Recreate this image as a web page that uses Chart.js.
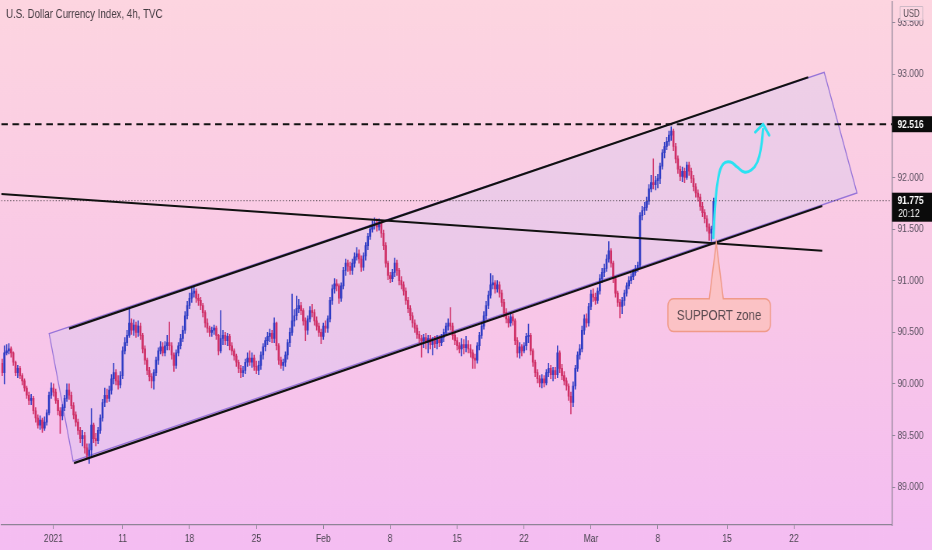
<!DOCTYPE html>
<html><head><meta charset="utf-8">
<script src="https://cdn.jsdelivr.net/npm/chart.js@4.4.1/dist/chart.umd.min.js"></script>
<style>
html,body{margin:0;padding:0;overflow:hidden;background:#f8c8e8;}
#wrap{width:932px;height:550px;overflow:hidden;position:relative;}
#inner{width:1200px;height:550px;transform:scaleX(0.776667);transform-origin:0 0;}
</style></head><body>
<div id="wrap"><div id="inner"><canvas id="c"></canvas></div></div>
<script>
const chartTitle = 'U.S. Dollar Currency Index, 4h, TVC';
const firstOpen = 90.20;
const closes = [
90.11,90.30,90.32,90.34,90.30,90.21,90.11,90.15,90.08,90.03,
89.96,89.89,89.84,89.86,89.74,89.67,89.60,89.65,89.57,89.63,
89.72,89.89,89.96,89.92,89.84,89.74,89.69,89.77,89.86,89.94,
89.89,89.79,89.70,89.63,89.55,89.47,89.50,89.38,89.31,89.36,
89.60,89.47,89.45,89.55,89.67,89.82,89.89,89.86,89.94,90.05,
90.11,90.03,89.99,90.08,90.32,90.40,90.47,90.59,90.52,90.57,
90.50,90.56,90.47,90.34,90.23,90.13,90.07,90.03,90.11,90.23,
90.32,90.36,90.30,90.37,90.40,90.37,90.28,90.18,90.30,90.37,
90.44,90.52,90.66,90.76,90.83,90.88,90.90,90.83,90.81,90.76,
90.69,90.59,90.54,90.50,90.52,90.54,90.47,90.32,90.44,90.47,
90.42,90.46,90.37,90.32,90.27,90.21,90.15,90.11,90.13,90.21,
90.25,90.21,90.25,90.17,90.13,90.18,90.28,90.36,90.42,90.46,
90.49,90.44,90.59,90.37,90.23,90.18,90.21,90.28,90.40,90.50,
90.61,90.66,90.73,90.76,90.71,90.61,90.52,90.63,90.71,90.69,
90.61,90.56,90.50,90.46,90.56,90.54,90.63,90.81,90.92,90.97,
90.95,90.83,90.95,91.10,91.17,91.14,91.10,91.17,91.23,91.26,
91.21,91.13,91.24,91.34,91.43,91.50,91.54,91.56,91.52,91.56,
91.46,91.34,91.17,91.05,91.02,91.08,91.17,91.10,91.00,90.96,
90.90,90.81,90.73,90.66,90.59,90.54,90.48,90.44,90.42,90.45,
90.40,90.44,90.38,90.42,90.39,90.43,90.40,90.45,90.50,90.56,
90.59,90.56,90.47,90.42,90.37,90.34,90.38,90.35,90.38,90.34,
90.30,90.25,90.23,90.37,90.47,90.56,90.66,90.76,90.86,90.96,
90.98,90.92,90.96,90.88,90.79,90.69,90.63,90.59,90.65,90.61,
90.42,90.30,90.36,90.32,90.37,90.46,90.47,90.32,90.21,90.11,
90.05,90.01,90.05,90.01,90.11,90.15,90.09,90.13,90.09,90.30,
90.15,90.08,90.03,89.98,89.88,89.82,89.98,90.15,90.28,90.34,
90.52,90.63,90.59,90.75,90.87,90.84,90.81,90.90,91.02,91.08,
91.12,91.21,91.29,91.17,91.02,90.88,90.79,90.75,90.81,90.88,
90.95,91.00,91.04,91.08,91.12,91.15,91.63,91.68,91.71,91.77,
91.89,91.95,91.93,91.97,91.99,92.11,92.24,92.30,92.35,92.41,
92.45,92.30,92.18,92.08,92.01,92.06,92.00,92.12,92.06,91.99,
91.91,91.85,91.81,91.72,91.66,91.60,91.52,91.46,91.50,91.77];
const highs = [
90.24,90.37,90.38,90.39,90.36,90.31,90.22,90.18,90.17,90.10,
90.05,89.98,89.92,89.90,89.88,89.77,89.70,89.69,89.67,89.68,
89.75,89.92,90.01,90.00,89.95,89.86,89.77,89.80,89.89,90.00,
90.00,89.92,89.82,89.73,89.66,89.58,89.55,89.53,89.42,89.42,
89.76,89.62,89.52,89.58,89.70,89.85,89.96,89.95,89.98,90.09,
90.20,90.14,90.08,90.12,90.36,90.45,90.52,90.73,90.63,90.62,
90.60,90.61,90.59,90.49,90.37,90.25,90.16,90.10,90.14,90.26,
90.35,90.41,90.40,90.41,90.47,90.60,90.40,90.30,90.33,90.40,
90.48,90.56,90.70,90.80,90.88,90.93,90.95,90.92,90.87,90.84,
90.78,90.71,90.63,90.56,90.55,90.57,90.56,90.48,90.71,90.52,
90.50,90.49,90.48,90.40,90.34,90.29,90.23,90.18,90.17,90.24,
90.30,90.32,90.30,90.28,90.22,90.22,90.31,90.39,90.45,90.50,
90.53,90.52,90.64,90.60,90.39,90.26,90.24,90.31,90.43,90.54,
90.87,90.72,90.85,90.82,90.79,90.73,90.64,90.66,90.75,90.77,
90.72,90.65,90.59,90.53,90.59,90.61,90.66,90.84,90.96,91.02,
91.01,90.97,90.98,91.13,91.21,91.20,91.18,91.21,91.27,91.32,
91.30,91.24,91.27,91.37,91.46,91.54,91.58,91.61,91.60,91.60,
91.58,91.49,91.37,91.19,91.08,91.11,91.22,91.20,91.12,91.04,
90.99,90.93,90.84,90.76,90.69,90.62,90.57,90.51,90.47,90.48,
90.49,90.47,90.47,90.45,90.46,90.47,90.46,90.48,90.53,90.59,
90.63,90.74,90.59,90.50,90.45,90.40,90.44,90.43,90.46,90.42,
90.38,90.33,90.29,90.40,90.50,90.60,90.70,90.80,90.90,91.07,
91.05,91.00,91.00,90.99,90.91,90.82,90.73,90.66,90.69,90.68,
90.63,90.45,90.40,90.38,90.40,90.49,90.58,90.49,90.34,90.23,
90.14,90.08,90.09,90.08,90.14,90.20,90.18,90.16,90.16,90.37,
90.32,90.19,90.12,90.06,90.00,89.92,90.02,90.18,90.31,90.38,
90.56,90.67,90.68,90.78,90.91,90.92,90.88,90.93,91.06,91.12,
91.16,91.25,91.38,91.31,91.19,91.04,90.90,90.82,90.84,90.91,
90.98,91.04,91.07,91.11,91.15,91.18,91.66,91.72,91.76,91.81,
91.93,92.02,92.18,92.01,92.03,92.14,92.27,92.34,92.39,92.45,
92.49,92.47,92.33,92.21,92.11,92.10,92.09,92.15,92.15,92.09,
92.02,91.94,91.88,91.84,91.76,91.69,91.63,91.55,91.53,91.80];
const lows = [
90.08,90.00,90.28,90.29,90.26,90.18,90.08,90.06,90.05,89.99,
89.93,89.86,89.80,89.80,89.71,89.63,89.57,89.56,89.53,89.55,
89.60,89.70,89.86,89.88,89.81,89.70,89.52,89.65,89.74,89.83,
89.85,89.76,89.66,89.59,89.51,89.43,89.40,89.33,89.27,89.23,
89.30,89.43,89.40,89.42,89.52,89.64,89.78,89.82,89.83,89.90,
90.00,89.99,89.95,89.96,90.05,90.29,90.37,90.45,90.48,90.47,
90.45,90.46,90.43,90.30,90.19,90.09,90.03,89.96,89.95,90.08,
90.19,90.29,90.27,90.27,90.33,90.33,90.24,90.12,90.15,90.27,
90.34,90.41,90.49,90.63,90.73,90.79,90.84,90.79,90.76,90.72,
90.65,90.55,90.50,90.46,90.46,90.48,90.43,90.28,90.30,90.38,
90.38,90.37,90.33,90.28,90.23,90.17,90.11,90.06,90.07,90.10,
90.17,90.18,90.16,90.13,90.10,90.09,90.14,90.24,90.32,90.38,
90.41,90.40,90.40,90.33,90.19,90.15,90.13,90.17,90.24,90.36,
90.47,90.56,90.62,90.69,90.67,90.57,90.42,90.48,90.60,90.65,
90.57,90.52,90.46,90.39,90.43,90.50,90.50,90.60,90.77,90.88,
90.90,90.78,90.80,90.92,91.05,91.09,91.06,91.06,91.13,91.20,
91.17,91.09,91.10,91.20,91.30,91.40,91.47,91.50,91.48,91.49,
91.42,91.30,91.13,91.01,90.98,90.99,91.04,91.05,90.96,90.92,
90.86,90.77,90.69,90.62,90.55,90.50,90.44,90.40,90.26,90.35,
90.34,90.30,90.34,90.28,90.35,90.34,90.36,90.37,90.41,90.47,
90.52,90.52,90.43,90.38,90.33,90.30,90.27,90.29,90.31,90.30,
90.26,90.15,90.15,90.20,90.33,90.44,90.53,90.63,90.73,90.83,
90.92,90.88,90.89,90.84,90.75,90.65,90.59,90.55,90.56,90.57,
90.38,90.26,90.25,90.27,90.30,90.33,90.40,90.28,90.17,90.07,
90.01,89.97,89.96,89.97,89.99,90.07,90.05,90.03,90.05,90.06,
90.11,90.04,89.99,89.94,89.84,89.71,89.78,89.95,90.12,90.24,
90.31,90.48,90.55,90.56,90.72,90.80,90.77,90.78,90.87,90.98,
91.04,91.09,91.18,91.13,90.98,90.84,90.75,90.64,90.68,90.76,
90.85,90.92,90.97,91.01,91.05,91.09,91.12,91.59,91.64,91.68,
91.74,91.86,91.89,91.88,91.90,91.94,92.08,92.19,92.27,92.31,
92.36,92.26,92.14,92.04,91.97,91.96,91.95,91.98,92.02,91.95,
91.87,91.81,91.77,91.68,91.62,91.56,91.48,91.39,91.38,91.44];

const xTickIndex = [23,54,84,114,144,174,204,234,264,294,325,355];
const xTickLabels = ['2021','11','18','25','Feb','8','15','22','Mar','8','15','22'];
const yTickValues = [89.0,89.5,90.0,90.5,91.0,91.5,92.0,92.5,93.0,93.5];
const xRange = [-0.45, 399.0];
const yRange = [88.633, 93.705];

const upperChannel = [{x:30.0,y:90.536},{x:361.4,y:92.971}];
const lowerChannel = [{x:32.2,y:89.232},{x:367.7,y:91.724}];
const trendLine = [{x:-0.45,y:91.840},{x:367.7,y:91.290}];
const channelBox = [{x:21.05,y:90.488},{x:368.6,y:93.019},{x:383.3,y:91.850},{x:31.8,y:89.251}];
const resistanceLevel = 92.516;
const lastPrice = 91.775;
const countdown = '20:12';
const forecastPath = [{x:318.9,y:91.415},{x:319.7,y:91.724},{x:321.1,y:91.995},{x:323.3,y:92.130},{x:326.5,y:92.149},{x:329.6,y:92.101},{x:332.7,y:92.053},{x:335.9,y:92.072},{x:338.6,y:92.149},{x:340.3,y:92.294},{x:341.2,y:92.468}];
const arrowHead = [{x:337.7,y:92.439},{x:341.2,y:92.517},{x:343.9,y:92.410}];
const supportTip = {x:320.2,y:91.367};
const supportBox = {x:321.5, top:90.826, bottom:90.507, label:'SUPPORT zone'};

const opens = closes.map((c,i)=> i===0 ? firstOpen : closes[i-1]);
const UP='#2e3bc4', DOWN='#cf2e66';
const candleColors = closes.map((c,i)=> c>=opens[i] ? UP : DOWN);
const FONT='"Liberation Sans", Arial, sans-serif';

const bgPlugin = {
  id:'bg',
  beforeDraw(chart){
    const {ctx,width,height}=chart;
    const g=ctx.createLinearGradient(0,0,0,height);
    g.addColorStop(0,'#fdd5e0'); g.addColorStop(0.5,'#f9c8e6'); g.addColorStop(1,'#f4bdf2');
    ctx.save(); ctx.fillStyle=g; ctx.fillRect(0,0,width,height); ctx.restore();
  },
  beforeDatasetsDraw(chart){
    const {ctx,scales:{x,y},chartArea:a}=chart;
    ctx.save();
    ctx.beginPath(); ctx.rect(a.left,a.top,a.right-a.left,a.bottom-a.top); ctx.clip();
    ctx.beginPath();
    channelBox.forEach((p,i)=>{const px=x.getPixelForValue(p.x), py=y.getPixelForValue(p.y); i?ctx.lineTo(px,py):ctx.moveTo(px,py);});
    ctx.closePath();
    ctx.fillStyle='rgba(200,200,245,0.28)'; ctx.fill();
    ctx.strokeStyle='rgba(140,105,215,0.9)'; ctx.lineWidth=1.3; ctx.stroke();
    ctx.restore();
  },
  afterDatasetsDraw(chart){
    const {ctx,scales:{x,y}}=chart;
    const cx=x.getPixelForValue(supportBox.x), T=y.getPixelForValue(supportBox.top), B=y.getPixelForValue(supportBox.bottom);
    const hw=66, r=7, L=cx-hw, R=cx+hw;
    const tx=x.getPixelForValue(supportTip.x), ty=y.getPixelForValue(supportTip.y);
    const bl=tx-9, br=tx+9;
    ctx.save();
    ctx.beginPath();
    ctx.moveTo(L+r,T); ctx.lineTo(bl,T); ctx.lineTo(tx,ty); ctx.lineTo(br,T);
    ctx.lineTo(R-r,T); ctx.arcTo(R,T,R,T+r,r); ctx.lineTo(R,B-r); ctx.arcTo(R,B,R-r,B,r);
    ctx.lineTo(L+r,B); ctx.arcTo(L,B,L,B-r,r); ctx.lineTo(L,T+r); ctx.arcTo(L,T,L+r,T,r); ctx.closePath();
    ctx.fillStyle='rgba(252,192,186,0.75)'; ctx.fill();
    ctx.strokeStyle='#f09a88'; ctx.lineWidth=1.5; ctx.stroke();
    ctx.fillStyle='#5b4a50'; ctx.font='15px '+FONT; ctx.textAlign='center'; ctx.textBaseline='middle';
    ctx.fillText(supportBox.label,cx,(T+B)/2+1);
    ctx.restore();
  },
  afterDraw(chart){
    const {ctx,scales:{y},chartArea:a,width}=chart;
    ctx.save();
    ctx.fillStyle='#453c42'; ctx.font='12.5px '+FONT; ctx.textAlign='left'; ctx.textBaseline='middle';
    ctx.fillText(chartTitle,7.7,15);
    const x0=a.right;
    const y1=y.getPixelForValue(resistanceLevel);
    ctx.fillStyle='#0b0b0b'; ctx.fillRect(x0,y1-8,width-x0,16);
    ctx.fillStyle='#ffffff'; ctx.font='bold 11px '+FONT;
    ctx.fillText(resistanceLevel.toFixed(3),x0+7,y1+0.5);
    const y2=y.getPixelForValue(lastPrice);
    ctx.fillStyle='#0b0b0b'; ctx.fillRect(x0,y2-8,width-x0,29);
    ctx.fillStyle='#ffffff'; ctx.font='bold 11px '+FONT;
    ctx.fillText(lastPrice.toFixed(3),x0+7,y2+0.5);
    ctx.font='11px '+FONT;
    ctx.fillText(countdown,x0+8,y2+13.5);
    ctx.fillStyle='rgba(252,214,226,0.95)'; ctx.strokeStyle='#cdb9c6'; ctx.lineWidth=1;
    ctx.beginPath(); ctx.rect(1159,6.5,29,14); ctx.fill(); ctx.stroke();
    ctx.fillStyle='#5a5058'; ctx.font='10px '+FONT; ctx.textAlign='center';
    ctx.fillText('USD',1173.5,14);
    ctx.restore();
  }
};

const lineDs = (data,opt)=>Object.assign({type:'line',data,borderColor:'#111',borderWidth:2.2,pointRadius:0,fill:false,tension:0},opt);

new Chart(document.getElementById('c'),{
  type:'bar',
  data:{datasets:[
    lineDs(forecastPath,{borderColor:'#2ae2f2',borderWidth:3,tension:0.45,borderCapStyle:'round',order:0}),
    lineDs(arrowHead,{borderColor:'#2ae2f2',borderWidth:3,borderCapStyle:'round',borderJoinStyle:'round',order:0}),
    lineDs(upperChannel,{order:1}),
    lineDs(lowerChannel,{order:1}),
    lineDs(trendLine,{order:1}),
    lineDs([{x:xRange[0],y:resistanceLevel},{x:xRange[1],y:resistanceLevel}],{borderWidth:2,borderDash:[8.5,6],order:2}),
    lineDs([{x:xRange[0],y:lastPrice},{x:xRange[1],y:lastPrice}],{borderWidth:1,borderColor:'#4a4048',borderDash:[1.3,2.6],order:2}),
    {type:'bar',data:closes.map((c,i)=>({x:i,y:[opens[i],c]})),backgroundColor:candleColors,barThickness:2.0,minBarLength:1,grouped:false,borderWidth:0,order:4},
    {type:'bar',data:closes.map((c,i)=>({x:i,y:[Math.min(lows[i],opens[i],c),Math.max(highs[i],opens[i],c)]})),backgroundColor:candleColors,barThickness:0.9,grouped:false,borderWidth:0,order:5}
  ]},
  options:{
    responsive:true, maintainAspectRatio:false, animation:false, events:[],
    layout:{padding:0},
    plugins:{legend:{display:false},tooltip:{enabled:false},title:{display:false}},
    scales:{
      x:{type:'linear',min:xRange[0],max:xRange[1],offset:false,
        afterBuildTicks:s=>{s.ticks=xTickIndex.map(v=>({value:v}));},
        afterFit:s=>{s.height=25;s.paddingLeft=0;s.paddingRight=0;},
        ticks:{autoSkip:false,maxRotation:0,padding:3,color:'#4a4450',font:{family:FONT,size:11},callback:(v,i)=>xTickLabels[i]},
        grid:{display:true,drawOnChartArea:false,drawTicks:true,tickLength:4,offset:false,color:'#8e8496'},
        border:{display:true,color:'#8e8496',width:1.2}},
      y:{type:'linear',position:'right',min:yRange[0],max:yRange[1],
        afterBuildTicks:s=>{s.ticks=yTickValues.map(v=>({value:v}));},
        afterFit:s=>{s.width=51.5;s.paddingTop=0;s.paddingBottom=0;},
        ticks:{padding:3,color:'#5a5060',font:{family:FONT,size:11},callback:v=>Number(v).toFixed(3)},
        grid:{display:true,drawOnChartArea:false,drawTicks:true,tickLength:4,color:'#8e8496'},
        border:{display:true,color:'#8e8496',width:1.3}}
    }
  },
  plugins:[bgPlugin]
});
</script>
</body></html>
